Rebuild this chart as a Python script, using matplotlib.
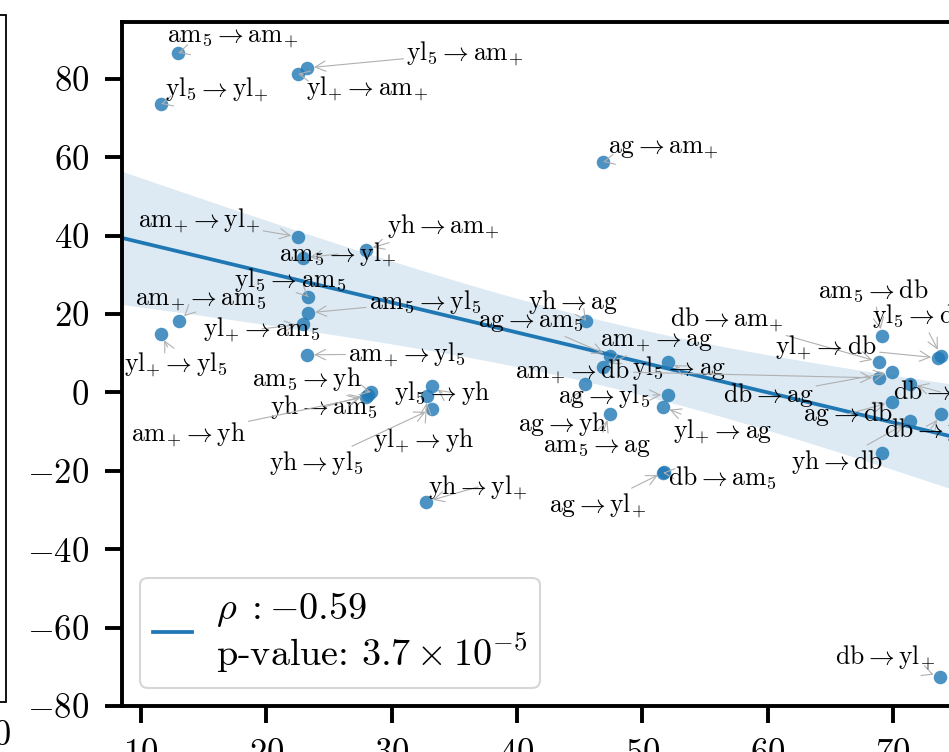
import numpy as np
import matplotlib
matplotlib.use("Agg")
import matplotlib.pyplot as plt
from matplotlib.patches import Rectangle

plt.rcParams['font.family'] = 'serif'
plt.rcParams['font.serif'] = ['cmr10', 'DejaVu Serif']
plt.rcParams['mathtext.fontset'] = 'cm'
plt.rcParams['axes.formatter.use_mathtext'] = True
plt.rcParams['axes.unicode_minus'] = True

# ---------------- data ----------------
transitions = [
    ("am5", "am+"), ("yl5", "am+"), ("yl+", "am+"), ("yl5", "yl+"), ("ag", "am+"),
    ("am+", "yl+"), ("yh", "am+"), ("am5", "yl+"), ("yl5", "am5"), ("am5", "yl5"),
    ("yl+", "am5"), ("am+", "am5"), ("yl+", "yl5"), ("am+", "yl5"),
    ("am5", "yh"), ("yh", "am5"), ("am+", "yh"), ("yl5", "yh"), ("yl+", "yh"),
    ("yh", "yl5"), ("yh", "yl+"),
    ("yh", "ag"), ("ag", "am5"), ("am+", "ag"), ("yl5", "ag"), ("ag", "yh"),
    ("ag", "yl5"), ("yl+", "ag"), ("am5", "ag"), ("db", "am5"), ("ag", "yl+"),
    ("am5", "db"), ("db", "am+"), ("db", "ag"), ("am+", "db"), ("yl5", "db"),
    ("yl+", "db"), ("db", "yl5"), ("ag", "db"), ("yh", "db"), ("db", "yh"),
    None, ("db", "yl+"),
]
x_vals = [12.95, 23.25, 22.53, 11.60, 46.87,
          22.53, 27.96, 22.93, 23.33, 23.33,
          22.93, 13.03, 11.60, 23.25,
          28.36, 28.12, 27.96, 33.22, 32.83,
          33.22, 32.75,
          45.51, 47.43, 46.87, 52.06, 45.43,
          52.06, 51.66, 47.43, 51.66, 51.74,
          69.14, 68.90, 69.94, 68.90, 73.85,
          73.61, 71.37, 69.94, 71.37, 73.85,
          69.14, 73.77]
y_vals = [86.6, 82.8, 81.3, 73.6, 58.8,
          39.7, 36.4, 34.3, 24.4, 20.3,
          17.5, 18.2, 14.9, 9.6,
          0.1, -0.6, -1.1, 1.7, -0.9,
          -4.2, -27.9,
          18.2, 9.3, 6.5, 7.8, 2.2,
          -0.6, -3.7, -5.5, -20.5, -20.3,
          14.4, 7.8, 5.2, 3.7, 9.3,
          8.8, 2.2, -2.4, -7.3, -5.5,
          -15.4, -72.6]

# regression line and its confidence band
fit_intercept = 45.9
fit_slope = -0.765
ci_center_x = 47.2
ci_min_halfwidth = 8.28
ci_curvature = 0.147

rho_value = -0.59
p_mantissa, p_exponent = 3.7, -5

# ---------------- layout (label positions, data coords) ----------------
label_xy = [(17.34, 90.7), (35.86, 86.6), (28.04, 77.7), (16.07, 77.4), (51.66, 62.4),
            (14.63, 44.0), (34.10, 42.5), (25.72, 35.3), (21.89, 28.7), (32.67, 23.1),
            (19.66, 16.2), (14.79, 23.6), (12.79, 7.3), (31.23, 9.8),
            (23.25, 3.4), (24.60, -3.7), (13.75, -10.6), (34.02, -0.1), (32.59, -12.1),
            (23.97, -18.0), (36.90, -24.1),
            (44.48, 23.1), (41.13, 18.0), (51.18, 13.1), (52.94, 6.3), (43.68, -8.0),
            (46.95, -0.9), (56.45, -9.8), (46.39, -13.9), (56.37, -21.8), (46.47, -28.7),
            (68.42, 25.9), (56.77, 18.8), (60.04, -0.6), (44.48, 5.5), (72.20, 19.5),
            (64.67, 11.6), (73.80, 0.1), (66.42, -5.5), (65.55, -17.7), (72.97, -9.6),
            None, (69.38, -67.5)]


def tex(code):
    base, sub = code[:2], code[2:]
    if sub:
        return r'\mathrm{%s}_{%s}' % (base, sub)
    return r'\mathrm{%s}' % base


W, H = 949, 752
fig = plt.figure(figsize=(W / 100, H / 100), dpi=100)
fig.patch.set_facecolor('white')

xlim = (8.48, 80.0)
ylim = (-80.0, 94.5)
px_per_x = 12.53
ax_left, ax_bottom, ax_top = 122, 706, 22
ax_w = (xlim[1] - xlim[0]) * px_per_x
ax = fig.add_axes([ax_left / W, (H - ax_bottom) / H, ax_w / W, (ax_bottom - ax_top) / H])
ax.set_xlim(*xlim)
ax.set_ylim(*ylim)

blue = '#1f77b4'
xs = np.linspace(xlim[0], xlim[1], 300)
line_y = fit_intercept + fit_slope * xs
hw = np.sqrt(ci_min_halfwidth ** 2 + ci_curvature * (xs - ci_center_x) ** 2)
ax.fill_between(xs, line_y - hw, line_y + hw, color=blue, alpha=0.15, linewidth=0, zorder=1)

legend_label = (r'$\rho\;: {%s}$' % f'{rho_value:.2f}') + '\n' + \
    (r'p-value: $%s \times 10^{%d}$' % (f'{p_mantissa}', p_exponent))
ax.plot(xs, line_y, color=blue, lw=2.7, zorder=2, label=legend_label)

ax.scatter(x_vals, y_vals, s=95, color=blue, alpha=0.8, linewidths=0, zorder=3)

for tr, x, y, lxy in zip(transitions, x_vals, y_vals, label_xy):
    if tr is None:
        continue
    txt = r'$%s\rightarrow %s$' % (tex(tr[0]), tex(tr[1]))
    ax.annotate(txt, xy=(x, y), xytext=lxy, textcoords='data',
                ha='center', va='center', fontsize=18.5, zorder=4,
                annotation_clip=False,
                arrowprops=dict(arrowstyle='->', color='#b0b0b0', lw=0.8,
                                shrinkA=0, shrinkB=5))

ax.set_xticks([10, 20, 30, 40, 50, 60, 70, 80])
ax.set_yticks([-80, -60, -40, -20, 0, 20, 40, 60, 80])
ax.tick_params(axis='both', which='major', labelsize=25, length=12.5, width=2.8,
               pad=11, color='black', labelcolor='black')
for sp in ax.spines.values():
    sp.set_linewidth(2.8)
    sp.set_color('black')

leg = ax.legend(loc='lower left', bbox_to_anchor=(18 / ax_w, 18 / (ax_bottom - ax_top)),
                borderaxespad=0, fontsize=27.5, handlelength=1.03, handletextpad=0.62,
                frameon=True, fancybox=True, framealpha=0.8, borderpad=0.33)
for t in leg.get_texts():
    t.set_linespacing(1.05)
leg.get_frame().set_edgecolor('#cccccc')
leg.get_frame().set_linewidth(1.5)

# neighbouring panel, partly visible at the left edge
fig.patches.append(Rectangle((-0.05, (H - 702) / H), 0.05 + 6 / W, (702 - 15) / H,
                             transform=fig.transFigure, fill=False, lw=1.3,
                             edgecolor='black', zorder=0))
fig.text(12 / W, (H - 736) / H, '100', ha='right', va='center', fontsize=25)

fig.savefig('out.png', dpi=100)
